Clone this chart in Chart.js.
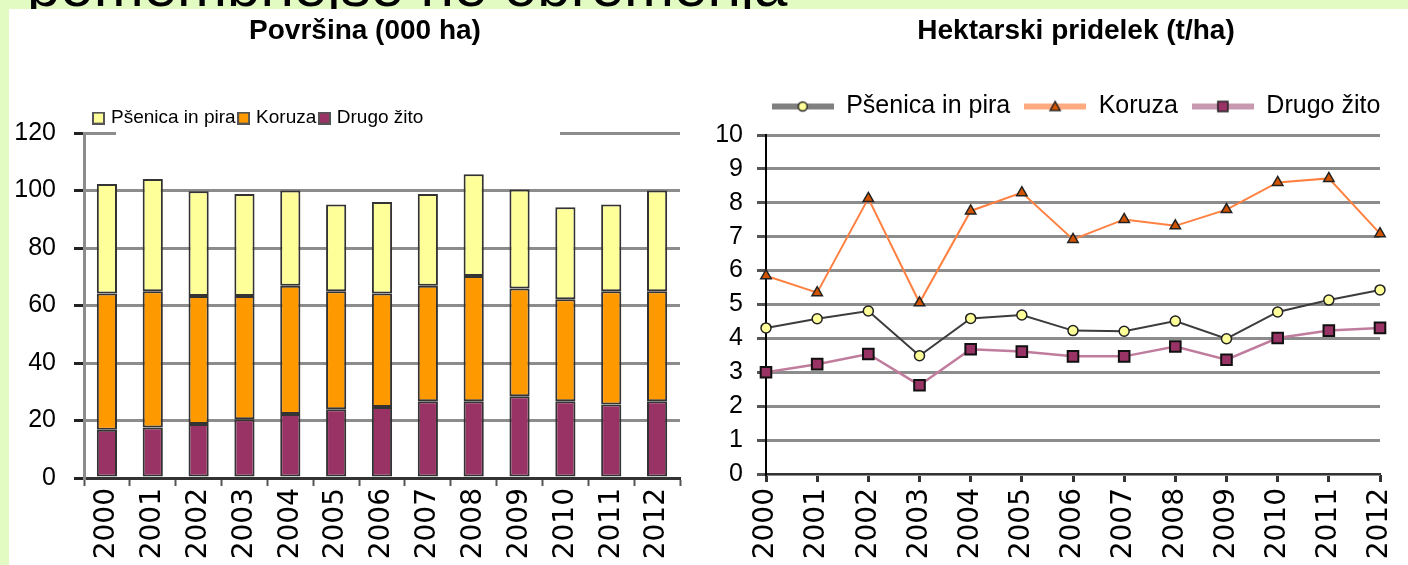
<!DOCTYPE html>
<html>
<head>
<meta charset="utf-8">
<script src="https://cdn.jsdelivr.net/npm/chart.js@4.4.1/dist/chart.umd.min.js"></script>
<style>
  html, body { margin: 0; padding: 0; width: 1408px; height: 565px; overflow: hidden; background: #e1fbc3; }
  #heading { position: absolute; left: 27px; top: -44px; font: 60px 'Liberation Sans', Arial, sans-serif; line-height: 60px; white-space: nowrap; color: #000; }
  #panel { position: absolute; left: 9px; top: 9px; width: 1399px; height: 556px; background: #fff; }
  #c1 { position: absolute; left: 8px; top: 0; }
  #c2 { position: absolute; left: 700px; top: 0; }
</style>
</head>
<body>
<div id="heading">pomembnejše ne obremenja</div>
<div id="panel"></div>
<canvas id="c1" width="714" height="565"></canvas>
<canvas id="c2" width="752" height="565"></canvas>
<script>
var FONT = "'Liberation Sans', Arial, sans-serif";
var XFONT = "'DejaVu Sans', 'Liberation Sans', sans-serif";

var years = ['2000', '2001', '2002', '2003', '2004', '2005', '2006', '2007', '2008', '2009', '2010', '2011', '2012'];
var seriesNames = ['Pšenica in pira', 'Koruza', 'Drugo žito'];

// Površina (000 ha), stacked
var areaWheat = [38.1, 39.0, 36.5, 35.5, 33.1, 30.2, 31.8, 31.9, 35.4, 34.5, 32.0, 30.2, 35.0];
var areaMaize = [47.4, 47.4, 44.5, 42.9, 44.6, 41.1, 39.5, 40.2, 43.6, 37.5, 35.5, 39.4, 38.3];
var areaOther = [16.8, 17.6, 18.8, 20.4, 22.3, 23.9, 24.7, 26.7, 26.7, 28.4, 26.7, 25.6, 26.7];

// Hektarski pridelek (t/ha)
var yieldWheat = [4.31, 4.58, 4.81, 3.49, 4.59, 4.69, 4.23, 4.21, 4.51, 3.99, 4.78, 5.13, 5.43];
var yieldMaize = [5.85, 5.35, 8.13, 5.05, 7.76, 8.30, 6.92, 7.51, 7.32, 7.80, 8.60, 8.72, 7.09];
var yieldOther = [3.00, 3.24, 3.54, 2.62, 3.68, 3.61, 3.47, 3.47, 3.76, 3.37, 4.01, 4.23, 4.31];

// legend swatch for the bar chart: small square with dark frame
function boxImage(fill) {
  var c = document.createElement('canvas');
  c.width = 13; c.height = 13;
  var g = c.getContext('2d');
  g.fillStyle = '#555';
  g.fillRect(0, 0, 13, 13);
  g.fillStyle = fill;
  g.fillRect(2, 2, 9, 9);
  return c;
}

// legend swatch for the line chart: thick line with the marker in the middle
function lineImage(lineColor, fill, shape) {
  var c = document.createElement('canvas');
  c.width = 62; c.height = 16;
  var g = c.getContext('2d');
  g.strokeStyle = lineColor;
  g.lineWidth = 6;
  g.beginPath(); g.moveTo(0, 8); g.lineTo(62, 8); g.stroke();
  g.fillStyle = fill;
  g.strokeStyle = '#222';
  g.lineWidth = 1.5;
  g.beginPath();
  if (shape === 'circle') {
    g.arc(31, 8, 4.5, 0, Math.PI * 2);
  } else if (shape === 'triangle') {
    g.moveTo(31, 3); g.lineTo(36, 12); g.lineTo(26, 12); g.closePath();
  } else {
    g.rect(26, 3, 10, 10);
  }
  g.fill(); g.stroke();
  return c;
}

// lets the legend take a fixed height (and start x) so the plot top matches;
// optionally paints the white legend box over the top gridline
var legendFit = {
  id: 'legendFit',
  beforeInit: function(chart, args, opts) {
    var legend = chart.legend;
    var fit = legend.fit;
    legend.fit = function() {
      fit.call(this);
      if (opts.height !== undefined) this.height = opts.height;
    };
  },
  afterLayout: function(chart, args, opts) {
    if (opts.left !== undefined) chart.legend.left = opts.left;
  },
  beforeDatasetsDraw: function(chart, args, opts) {
    if (!opts.cover) return;
    var ctx = chart.ctx;
    ctx.save();
    ctx.fillStyle = '#fff';
    ctx.fillRect(opts.cover[0], chart.chartArea.top - 3, opts.cover[1] - opts.cover[0], 6);
    ctx.restore();
  }
};

var barSwatches = [boxImage('#993366'), boxImage('#ff9900'), boxImage('#ffff99')];

new Chart(document.getElementById('c1'), {
  type: 'bar',
  data: {
    labels: years,
    datasets: [
      { label: seriesNames[2], data: areaOther, backgroundColor: '#993366' },
      { label: seriesNames[1], data: areaMaize, backgroundColor: '#ff9900' },
      { label: seriesNames[0], data: areaWheat, backgroundColor: '#ffff99' }
    ]
  },
  options: {
    responsive: false,
    animation: false,
    datasets: {
      bar: { borderColor: '#333', borderWidth: 2, borderSkipped: false, categoryPercentage: 1, barPercentage: 0.44 }
    },
    scales: {
      x: {
        stacked: true,
        grid: { drawOnChartArea: false, tickLength: 8, tickColor: '#555', tickWidth: 2 },
        border: { color: '#333', width: 3 },
        ticks: { minRotation: 90, maxRotation: 90, autoSkip: false, padding: 2, color: '#000', font: { family: XFONT, size: 28 } },
        afterFit: function(s) { s.height = 87; s.paddingRight = 42; }
      },
      y: {
        stacked: true,
        min: 0,
        max: 120,
        ticks: { stepSize: 20, padding: 18, color: '#000', font: { family: FONT, size: 25 } },
        grid: { color: '#8c8c8c', lineWidth: 3, tickLength: 10, tickColor: '#222' },
        border: { color: '#8c8c8c', width: 3 },
        afterFit: function(s) { s.width = 76; }
      }
    },
    plugins: {
      title: {
        display: true,
        text: 'Površina (000 ha)',
        color: '#000',
        font: { family: FONT, size: 28, weight: 'bold' },
        padding: { top: 14, bottom: 56 }
      },
      legend: {
        reverse: true,
        align: 'start',
        labels: {
          usePointStyle: true,
          pointStyleWidth: 6,
          padding: 5,
          color: '#000',
          font: { family: FONT, size: 19 },
          generateLabels: function(chart) {
            return chart.data.datasets.map(function(ds, i) {
              return { text: ds.label, pointStyle: barSwatches[i], datasetIndex: i, lineWidth: 0, fontColor: '#000' };
            });
          }
        }
      },
      legendFit: { height: 29.5, left: 82.5, cover: [108, 552] },
      tooltip: { enabled: false }
    }
  },
  plugins: [legendFit]
});

var lineSwatches = [
  lineImage('#808080', '#ffff99', 'circle'),
  lineImage('#ffaa80', '#d35400', 'triangle'),
  lineImage('#c898b0', '#993366', 'rect')
];

new Chart(document.getElementById('c2'), {
  type: 'line',
  data: {
    labels: years,
    datasets: [
      { label: seriesNames[0], data: yieldWheat, borderColor: '#3c3c3c', borderWidth: 2,
        pointStyle: 'circle', pointRadius: 5, pointBackgroundColor: '#ffff99', pointBorderColor: '#222', pointBorderWidth: 1.5 },
      { label: seriesNames[1], data: yieldMaize, borderColor: '#ff8040', borderWidth: 2,
        pointStyle: 'triangle', pointRadius: 6, pointBackgroundColor: '#d35400', pointBorderColor: '#222', pointBorderWidth: 1.5 },
      { label: seriesNames[2], data: yieldOther, borderColor: '#c07c9c', borderWidth: 2.5,
        pointStyle: 'rect', pointRadius: 7.5, pointBackgroundColor: '#993366', pointBorderColor: '#111', pointBorderWidth: 2 }
    ]
  },
  options: {
    responsive: false,
    animation: false,
    clip: false,
    scales: {
      x: {
        offset: false,
        grid: { drawOnChartArea: false, tickLength: 8, tickColor: '#333', tickWidth: 3 },
        border: { color: '#333', width: 2 },
        ticks: { minRotation: 90, maxRotation: 90, autoSkip: false, padding: 6, color: '#000', font: { family: XFONT, size: 28 } },
        afterFit: function(s) { s.height = 91; s.paddingRight = 72; }
      },
      y: {
        min: 0,
        max: 10,
        ticks: { stepSize: 1, padding: 14, color: '#000', font: { family: FONT, size: 25 } },
        grid: { color: '#8c8c8c', lineWidth: 3, tickLength: 9, tickColor: '#555' },
        border: { color: '#000', width: 2 },
        afterFit: function(s) { s.width = 66; }
      }
    },
    plugins: {
      title: {
        display: true,
        text: 'Hektarski pridelek (t/ha)',
        color: '#000',
        font: { family: FONT, size: 28, weight: 'bold' },
        padding: { top: 14, bottom: 32.4 }
      },
      legend: {
        labels: {
          usePointStyle: true,
          pointStyleWidth: 62,
          padding: 14,
          color: '#000',
          font: { family: FONT, size: 25 },
          generateLabels: function(chart) {
            return chart.data.datasets.map(function(ds, i) {
              return { text: ds.label, pointStyle: lineSwatches[i], datasetIndex: i, lineWidth: 0, fontColor: '#000' };
            });
          }
        }
      },
      legendFit: { height: 55 },
      tooltip: { enabled: false }
    }
  },
  plugins: [legendFit]
});
</script>
</body>
</html>
